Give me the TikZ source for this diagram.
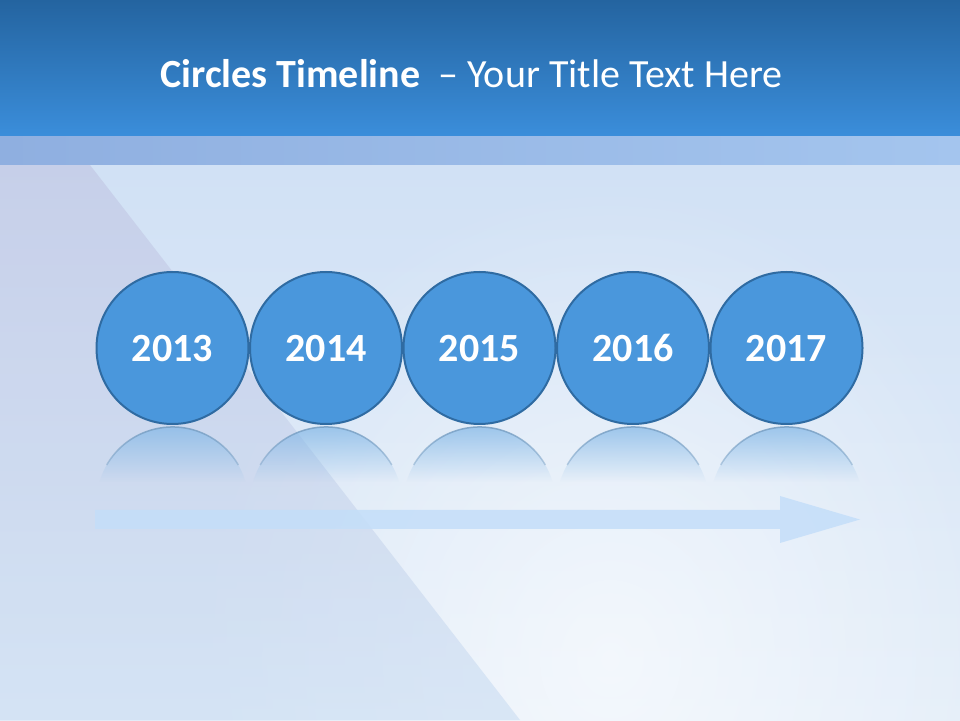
\documentclass[tikz,border=0pt]{standalone}
\usepackage{fontspec}
\setmainfont{Carlito}
\usetikzlibrary{positioning,fadings}
\definecolor{barTop}{HTML}{2464A0}
\definecolor{barBot}{HTML}{3B8EDB}
\definecolor{bandL}{HTML}{8FAFE0}
\definecolor{bandR}{HTML}{A4C5EE}
\definecolor{bgTopL}{HTML}{C0C4E2}
\definecolor{bgBotL}{HTML}{CADDF2}
\definecolor{bgTopR}{HTML}{D1E1F5}
\definecolor{bgBotR}{HTML}{E4EEF9}
\definecolor{circFill}{HTML}{4A97DC}
\definecolor{circLine}{HTML}{2F6BA2}
\definecolor{arrowFill}{HTML}{C4DEF9}
\tikzfading[name=fade down, top color=transparent!0, bottom color=transparent!100]
\tikzfading[name=glow, inner color=transparent!0, outer color=transparent!100]

\begin{document}
\begin{tikzpicture}[x=1pt,y=1pt]
  \tikzstyle{year}=[circle,draw=circLine,fill=circFill,line width=2pt,minimum size=152pt,
    inner sep=0pt,outer sep=0pt,text=white,text height=27pt,text depth=0pt,
    font=\fontsize{40}{48}\selectfont\bfseries]
  \tikzstyle{mirror}=[fill=circFill!70!white,fill opacity=0.7,path fading=fade down]
  \tikzstyle{mirrorline}=[draw=circLine!65!white,line width=1.5pt,path fading=fade down]
  \useasboundingbox (0,0) rectangle (960,720);
  % background
  \shade[top color=bgTopR,bottom color=bgBotR] (0,0) rectangle (960,555);
  \fill[white,fill opacity=0.6,path fading=glow] (610,60) ellipse (420 and 480);
  \shade[top color=bgTopL,bottom color=bgBotL,fill opacity=0.6] (0,0) -- (0,555) -- (90,555) -- (520,0) -- cycle;
  % title bar
  \shade[top color=barTop,bottom color=barBot] (0,583) rectangle (960,720);
  \shade[left color=bandL,right color=bandR] (0,555) rectangle (960,583);
  \node[text=white,font=\fontsize{40}{48}\selectfont,anchor=base] (title) at (471.5,632)
    {\textbf{Circles Timeline}\ \ – Your Title Text Here};
  % arrow
  \fill[arrowFill,fill opacity=0.85] (95,191) -- (780,191) -- (780,177) -- (860,200.5)
    -- (780,224) -- (780,210) -- (95,210) -- cycle;
  % circles
  \node[year] (y2013) at (172.5,372) {2013};
  \node[year,right=1.5pt of y2013] (y2014) {2014};
  \node[year,right=1.5pt of y2014] (y2015) {2015};
  \node[year,right=1.5pt of y2015] (y2016) {2016};
  \node[year,right=1.5pt of y2016] (y2017) {2017};
  % reflections
  \foreach \n in {y2013,y2014,y2015,y2016,y2017}{
    \begin{scope}
      \clip ([yshift=-79pt]\n.south) circle (76);
      \fill[mirror] ([shift={(-80,-3)}]\n.south) rectangle ([shift={(80,-58)}]\n.south);
    \end{scope}
    \draw[mirrorline] ([yshift=-79pt]\n.south) ++(150:76) arc (150:30:76);
  }
\end{tikzpicture}
\end{document}
